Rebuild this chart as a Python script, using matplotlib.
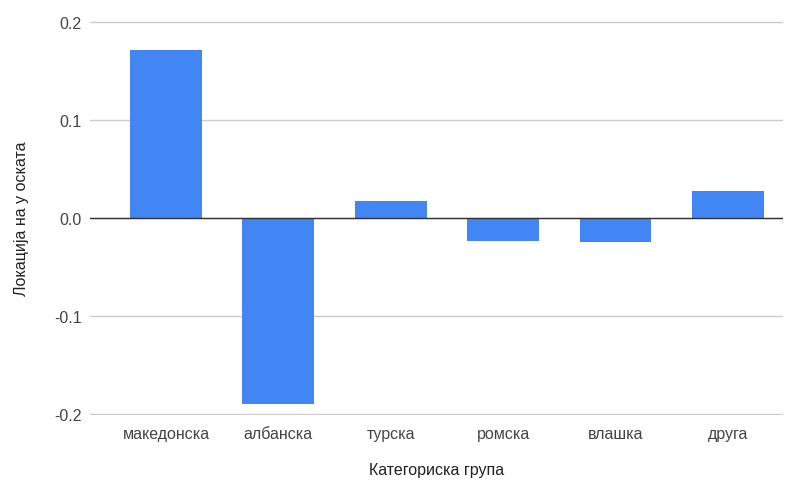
import matplotlib
matplotlib.use("Agg")
import matplotlib.pyplot as plt

plt.rcParams['font.family'] = ['Liberation Sans', 'DejaVu Sans']

categories = ["македонска", "албанска", "турска", "ромска", "влашка", "друга"]
values = [0.171, -0.19, 0.017, -0.023, -0.024, 0.027]
y_ticks = [-0.2, -0.1, 0.0, 0.1, 0.2]

fig = plt.figure(figsize=(7.92, 4.85), dpi=100)
ax = fig.add_axes([0.1136, 0.1423, 0.875, 0.8124])

x = range(len(categories))
ax.bar(x, values, width=0.64, color="#4285f4", zorder=3)

ax.set_ylim(-0.2008, 0.2008)
ax.set_xlim(-0.676, 5.49)
ax.set_yticks(y_ticks)
ax.set_yticklabels([f"{t:.1f}" for t in y_ticks])
ax.set_xticks(list(x))
ax.set_xticklabels(categories)

ax.grid(axis='y', color="#cccccc", linewidth=1, zorder=0)
ax.axhline(0, color="#333333", linewidth=1, zorder=4)
for s in ax.spines.values():
    s.set_visible(False)
ax.tick_params(axis='both', length=0, labelsize=11.5, colors="#444444")
ax.tick_params(axis='x', pad=8)
ax.tick_params(axis='y', pad=6)

ax.set_xlabel("Категориска група", fontsize=11.5, color="#222222", labelpad=15)
ax.set_ylabel("Локација на у оската", fontsize=11.5, color="#222222", labelpad=18)

fig.savefig("out.png", dpi=100)
